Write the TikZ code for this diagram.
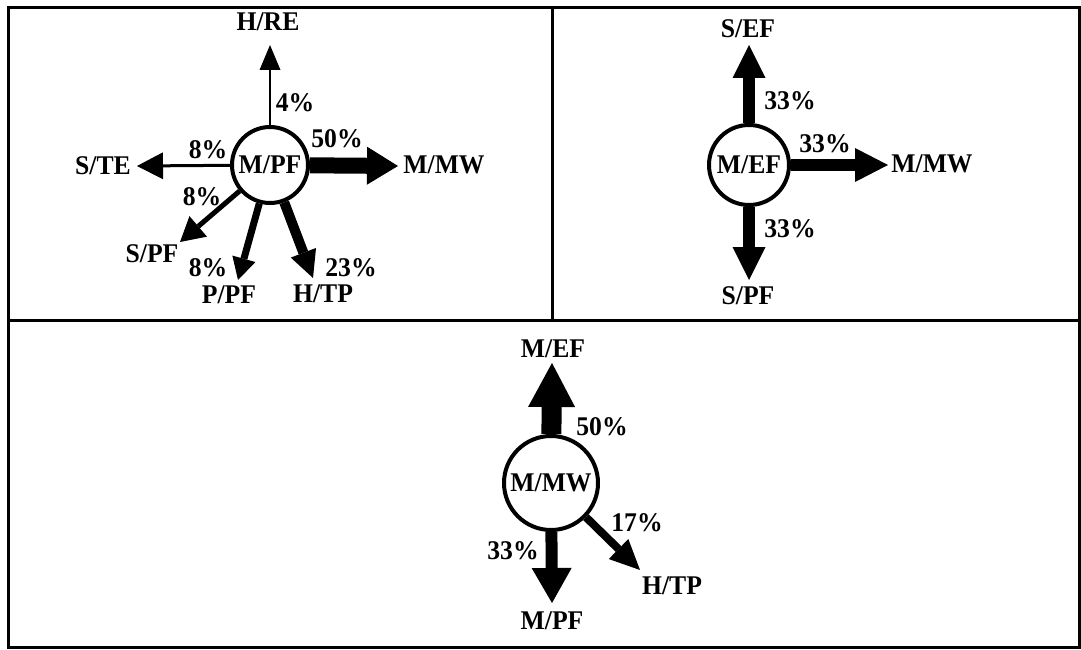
\documentclass[tikz,border=0pt]{standalone}
\usepackage{fontspec}
\setmainfont{Liberation Serif}
\newfontfamily\lblfont{Liberation Serif Bold}[FakeStretch=0.95]
\usetikzlibrary{arrows.meta}
\begin{document}
\begin{tikzpicture}[x=1pt,y=-1pt,
  lbl/.style={font=\lblfont\fontsize{27}{29}\selectfont, inner sep=0pt},
  hub/.style={circle, draw, line width=4pt, fill=white, minimum size=#1,
    inner sep=0pt, font=\lblfont\fontsize{27}{29}\selectfont},
  flow/.style args={#1/#2/#3}{line width=#1,
    -{Triangle[length=#2, width=#3, line width=0pt]}},
  frame/.style={line width=3pt}]
\useasboundingbox (0,0) rectangle (1081,650);

% panel frames
\draw[frame] (8,8) rectangle (1079,647);
\draw[frame] (8,320) -- (1079,320);
\draw[frame] (552,8) -- (552,320);

% ---- M/PF panel ----
\node[hub=76pt] (mpf) at (270,165) {M/PF};
\coordinate (a-hre) at (270,45);
\coordinate (a-ste) at (137,166);
\coordinate (a-mmw) at (398,166);
\coordinate (a-spf) at (180,242);
\coordinate (a-ppf) at (238,280);
\coordinate (a-htp) at (313,278);
\draw[flow=2.5pt/25pt/21pt] (mpf) -- (a-hre);
\draw[flow=3pt/26pt/27pt] (mpf) -- (a-ste);
\draw[flow=16pt/31pt/38pt] (mpf) -- (a-mmw);
\draw[flow=5pt/24pt/27pt] (mpf) -- (a-spf);
\draw[flow=7pt/22pt/24pt] (mpf) -- (a-ppf);
\draw[flow=10pt/27pt/27pt] (mpf) -- (a-htp);
\node[lbl] (l-hre) at (268,22) {H/RE};
\node[lbl] (p-hre) at (295,103) {4\%};
\node[lbl] (l-ste) at (103,166) {S/TE};
\node[lbl] (p-ste) at (208,150) {8\%};
\node[lbl] (l-mmw) at (444,165) {M/MW};
\node[lbl] (p-mmw) at (337,139) {50\%};
\node[lbl] (l-spf) at (152,254) {S/PF};
\node[lbl] (p-spf) at (202,197) {8\%};
\node[lbl] (l-ppf) at (229,295) {P/PF};
\node[lbl] (p-ppf) at (208,268) {8\%};
\node[lbl] (l-htp) at (323,294) {H/TP};
\node[lbl] (p-htp) at (351,268) {23\%};

% ---- M/EF panel ----
\node[hub=80pt] (mef) at (749,165) {M/EF};
\coordinate (b-sef) at (749,45);
\coordinate (b-mmw) at (888,165);
\coordinate (b-spf) at (749,280);
\draw[flow=12pt/33pt/33pt] (mef) -- (b-sef);
\draw[flow=12pt/33pt/34pt] (mef) -- (b-mmw);
\draw[flow=12pt/33pt/33pt] (mef) -- (b-spf);
\node[lbl] (l-sef) at (748,29) {S/EF};
\node[lbl] (p-sef) at (790,101) {33\%};
\node[lbl] (l-mmw2) at (932,164) {M/MW};
\node[lbl] (p-mmw2) at (825,144) {33\%};
\node[lbl] (l-spf2) at (748,296) {S/PF};
\node[lbl] (p-spf2) at (790,229) {33\%};

% ---- M/MW panel ----
\node[hub=94pt] (mmw) at (551,483) {M/MW};
\coordinate (c-mef) at (552,363);
\coordinate (c-mpf) at (552,603);
\coordinate (c-htp) at (640,570);
\draw[flow=20pt/44pt/47pt] (mmw) -- (c-mef);
\draw[flow=12pt/35pt/40pt] (mmw) -- (c-mpf);
\draw[flow=8pt/30pt/28pt] (mmw) -- (c-htp);
\node[lbl] (l-mef) at (553,349) {M/EF};
\node[lbl] (p-mef) at (602,427) {50\%};
\node[lbl] (l-mpf) at (552,621) {M/PF};
\node[lbl] (p-mpf) at (513,551) {33\%};
\node[lbl] (l-htp3) at (672,586) {H/TP};
\node[lbl] (p-htp3) at (637,523) {17\%};
\end{tikzpicture}
\end{document}
